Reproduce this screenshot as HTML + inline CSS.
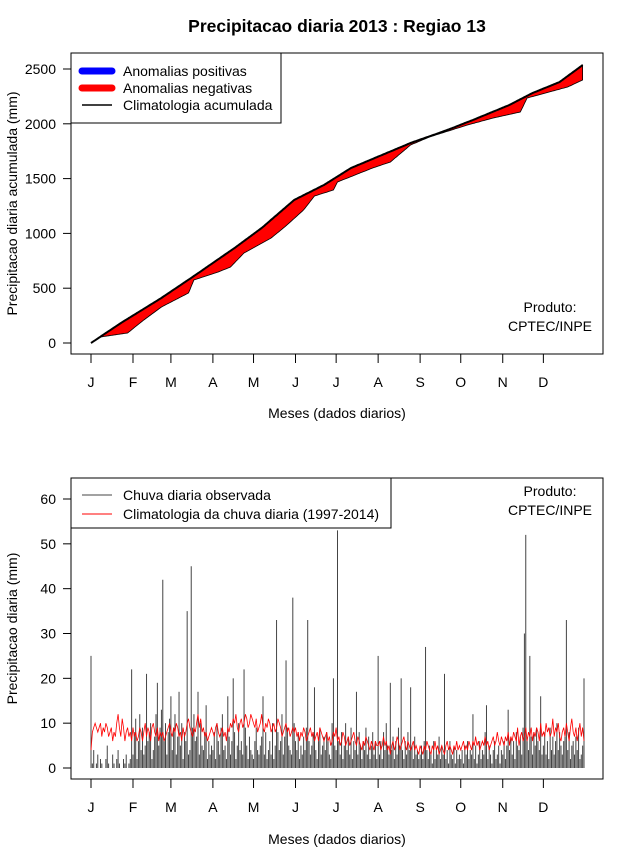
<!DOCTYPE html>
<html><head><meta charset="utf-8">
<style>
body{margin:0;background:#fff;}
svg{display:block;font-family:"Liberation Sans",Arial,sans-serif;}
</style></head>
<body>
<svg id="chart" width="640" height="850" viewBox="0 0 640 850">
<rect width="640" height="850" fill="#fff"/>
<text x="337" y="32" text-anchor="middle" font-size="17.5" font-weight="bold">Precipitacao diaria 2013 : Regiao 13</text>
<g id="topPanel"></g>
<g id="botPanel"></g>
</svg>
<script>
// ---- Top chart data (cumulative, mm) ----
const climDays = [0,22,52,76,106,126,150,172,192,236,263,282,309,326,346,363];
const climAccum = [0,182,411,611,867,1049,1305,1442,1597,1825,1943,2035,2172,2281,2381,2536];
const obsDays = [0,7,27,39,52,72,76,94,103,113,133,143,157,165,179,182,208,221,236,250,278,297,317,322,341,352,363];
const obsAccum = [0,55,91,210,328,456,575,648,693,821,958,1058,1214,1341,1396,1469,1597,1651,1807,1880,1989,2053,2108,2235,2299,2336,2400];
const yTicksTop = [0,500,1000,1500,2000,2500];
const monthLabels = ["J","F","M","A","M","J","J","A","S","O","N","D"];
const monthStart = [0,31,59,90,120,151,181,212,243,273,304,334];
// ---- Bottom chart data (daily, mm) ----
const obsDaily = [
25,1,4,0,1,3,0,2,1,0,0,2,5,1,0,0,3,1,0,2,4,1,0,0,2,1,3,0,1,2,22,
3,8,11,2,6,12,4,9,3,5,21,6,8,10,2,4,7,12,19,5,9,13,42,6,10,3,8,11,
16,4,9,12,3,7,17,5,10,2,8,6,35,3,4,45,9,12,6,7,17,3,10,5,4,8,14,2,6,3,5,
4,8,2,10,6,3,9,12,4,5,2,16,7,3,6,20,8,2,5,10,4,6,3,22,9,5,2,7,4,3,
2,6,9,4,3,5,7,16,3,8,2,4,6,3,10,2,5,33,8,4,6,12,3,7,24,9,5,4,3,38,10,
6,4,8,2,5,3,7,4,9,33,6,3,5,8,18,4,2,6,9,3,5,7,4,8,6,3,2,10,20,5,
4,53,6,3,8,2,5,10,4,7,3,9,2,6,4,17,3,8,5,2,6,4,9,3,7,2,5,8,3,6,2,
25,3,6,2,8,4,10,5,3,19,4,7,2,6,3,9,5,20,4,2,6,3,8,4,18,5,2,7,3,4,2,
3,5,2,6,27,4,2,5,3,1,6,2,4,3,7,2,5,3,21,2,4,1,6,3,2,5,1,4,2,3,
2,4,1,5,3,6,2,4,3,12,2,5,1,3,6,2,4,3,8,14,2,5,3,1,4,6,2,3,5,1,4,
3,6,2,5,13,4,7,3,6,2,8,5,4,7,3,9,30,52,6,4,25,7,3,8,5,9,6,4,16,3,
5,8,3,6,2,9,4,7,3,6,10,4,8,5,3,6,7,33,4,8,2,5,6,3,7,4,9,2,3,5,20];
const climDaily = [
4,8,9,10,9,8,9,10,7,9,8,10,9,7,8,9,6,8,7,10,12,9,7,11,9,6,8,9,7,8,6,
9,7,8,6,7,9,8,6,8,10,7,9,8,6,9,10,8,7,9,6,8,7,8,6,7,8,9,10,
8,7,9,8,10,9,7,8,6,9,7,8,10,11,9,8,7,9,8,10,12,9,11,8,9,7,8,6,7,8,9,
8,7,9,10,8,7,8,9,7,8,6,9,8,10,9,11,10,12,9,8,10,11,9,10,12,11,9,10,12,11,
10,9,11,8,9,10,12,9,8,10,9,11,10,8,9,10,8,9,11,10,9,7,8,9,10,8,9,7,8,9,8,
9,7,8,6,8,7,9,8,6,7,8,9,7,8,6,7,8,6,9,8,7,6,7,8,6,7,5,6,8,7,
9,6,7,5,6,8,7,5,6,7,5,6,7,8,6,5,7,6,5,4,6,5,7,6,5,4,6,5,4,6,5,
5,6,4,5,7,5,6,4,5,3,5,6,4,5,7,6,4,5,6,7,5,4,6,5,4,5,6,4,5,4,3,
5,4,3,5,4,6,5,4,3,5,4,6,4,5,3,4,5,4,3,5,6,4,5,4,3,5,4,6,4,5,
4,5,6,4,5,4,6,5,4,6,5,7,5,6,4,5,6,5,7,5,6,4,5,6,7,5,6,8,6,5,7,
6,5,7,6,8,5,7,6,8,7,6,9,5,7,8,6,7,9,6,8,7,9,6,8,7,9,8,6,10,7,
8,7,10,8,9,7,8,11,7,9,8,10,7,6,8,9,7,10,8,6,9,11,8,7,9,6,8,10,7,9,6];
const yTicksBot = [0,10,20,30,40,50,60];

const NS="http://www.w3.org/2000/svg";
const FS=14;
function mk(parent,tag,attrs,text){const e=document.createElementNS(NS,tag);for(const k in attrs)e.setAttribute(k,attrs[k]);if(text!==undefined)e.textContent=text;parent.appendChild(e);return e;}
const xDay = d => 91 + d*(493/364);
function interp(xs,ys,d){for(let i=1;i<xs.length;i++){if(d<=xs[i]){const t=(d-xs[i-1])/(xs[i]-xs[i-1]);return ys[i-1]+t*(ys[i]-ys[i-1]);}}return ys[ys.length-1];}

function frame(g,y0,y1,yScale,ticks,ytitle,xtitleY,prodY){
  const r=mk(g,'rect',{x:71,y:y0,width:532,height:y1-y0,fill:'none',stroke:'#000','stroke-width':1});
  
  
  ticks.forEach(v=>{
    const y=yScale(v);
    const t=mk(g,'line',{x1:63,x2:71,y1:y,y2:y,stroke:'#000'});
    
    
    const l=mk(g,'text',{x:56,y:y+5,'text-anchor':'end','font-size':FS},String(v));
    
    
  });
  monthStart.forEach((d,i)=>{
    const x=xDay(d);
    const t=mk(g,'line',{x1:x,x2:x,y1:y1,y2:y1+9,stroke:'#000'});
    
    
    const l=mk(g,'text',{x:x,y:y1+33,'text-anchor':'middle','font-size':FS},monthLabels[i]);
    
    
  });
  const xt=mk(g,'text',{x:337,y:xtitleY,'text-anchor':'middle','font-size':FS},'Meses (dados diarios)');
  
  
  const cy=(y0+y1)/2;
  const yt=mk(g,'text',{x:17,y:cy,'text-anchor':'middle','font-size':FS,transform:`rotate(-90 17 ${cy})`},ytitle);
  
  
  const p1=mk(g,'text',{x:550,y:prodY,'text-anchor':'middle','font-size':FS},'Produto:');
  
  
  const p2=mk(g,'text',{x:550,y:prodY+19,'text-anchor':'middle','font-size':FS},'CPTEC/INPE');
  
  
}

// ---- top panel ----
const topPanel=document.getElementById('topPanel');
const yTop = v => 343 - v*(274/2500);
frame(topPanel,53,354,yTop,yTicksTop,'Precipitacao diaria acumulada (mm)',418,312);
const lastDay=Math.max(climDays[climDays.length-1],obsDays[obsDays.length-1]);
let upper=[],lower=[];
for(let d=0;d<=lastDay;d++){upper.push([xDay(d),yTop(interp(climDays,climAccum,d))]);lower.push([xDay(d),yTop(interp(obsDays,obsAccum,d))]);}
const poly=upper.concat(lower.slice().reverse()).map(p=>p[0].toFixed(1)+','+p[1].toFixed(1)).join(' ');
const area=mk(topPanel,'polygon',{points:poly,fill:'#ff0000',stroke:'#000','stroke-width':0.8});


const cl=mk(topPanel,'polyline',{points:upper.map(p=>p[0].toFixed(1)+','+p[1].toFixed(1)).join(' '),fill:'none',stroke:'#000','stroke-width':2});


const lg=mk(topPanel,'g',{});


mk(lg,'rect',{x:71,y:53,width:210,height:70,fill:'#fff',stroke:'#000'});
const le=[['Anomalias positivas','#0000ff',7],['Anomalias negativas','#ff0000',7],['Climatologia acumulada','#000',1.5]];
le.forEach((e,i)=>{const y=71+i*17;
  const s=mk(lg,'line',{x1:82,x2:112,y1:y,y2:y,stroke:e[1],'stroke-width':e[2],'stroke-linecap':e[2]>2?'round':'butt'});
  
  
  const t=mk(lg,'text',{x:123,y:y+5,'font-size':FS},e[0]);
  
  
});

// ---- bottom panel ----
const botPanel=document.getElementById('botPanel');
const yBot = v => 768 - v*(269/60);
frame(botPanel,478,779,yBot,yTicksBot,'Precipitacao diaria (mm)',844,496);
obsDaily.forEach((v,d)=>{
  const x=xDay(d);
  const b=mk(botPanel,'line',{x1:x,x2:x,y1:yBot(0),y2:yBot(v),stroke:'#444','stroke-width':1});
  
  
});
const cpts=climDaily.map((v,d)=>xDay(d).toFixed(1)+','+yBot(v).toFixed(1)).join(' ');
const cd=mk(botPanel,'polyline',{points:cpts,fill:'none',stroke:'#ff0000','stroke-width':0.8});


const lg2=mk(botPanel,'g',{});


mk(lg2,'rect',{x:71,y:478,width:320,height:50,fill:'#fff',stroke:'#000'});
[['Chuva diaria observada','#444'],['Climatologia da chuva diaria (1997-2014)','#ff0000']].forEach((e,i)=>{const y=495+i*19;
  const s=mk(lg2,'line',{x1:82,x2:112,y1:y,y2:y,stroke:e[1],'stroke-width':1});
  
  
  const t=mk(lg2,'text',{x:123,y:y+5,'font-size':FS},e[0]);
  
  
});
</script>
</body></html>
